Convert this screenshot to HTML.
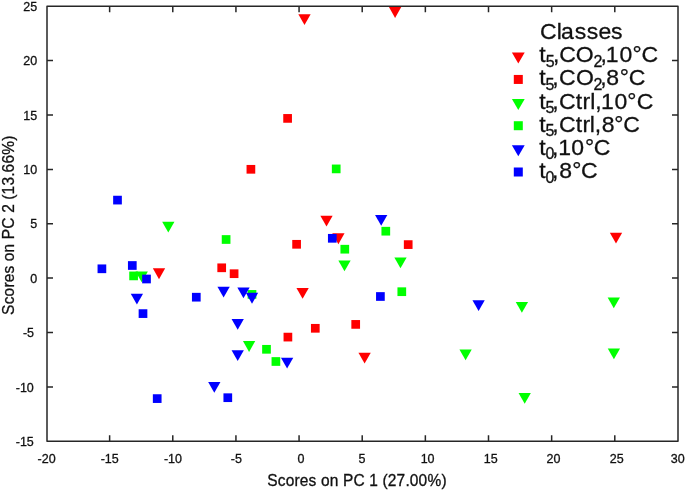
<!DOCTYPE html>
<html><head><meta charset="utf-8"><title>Scores on PC 1 vs PC 2</title>
<style>
html,body{margin:0;padding:0;background:#fff;width:685px;height:491px;overflow:hidden}
svg{display:block}
text{font-family:"Liberation Sans",Arial,Helvetica,sans-serif;fill:#111111;stroke:#111111;stroke-width:0.3px}
</style></head><body>
<svg width="685" height="491" viewBox="0 0 685 491">
<rect width="685" height="491" fill="#fff"/>
<g><polygon points="298.35,14.25 310.65,14.25 304.50,25.05" fill="#ff0000"/><polygon points="388.95,7.10 401.25,7.10 395.10,17.90" fill="#ff0000"/><polygon points="320.35,215.65 332.65,215.65 326.50,226.45" fill="#ff0000"/><polygon points="332.25,233.35 344.55,233.35 338.40,244.15" fill="#ff0000"/><polygon points="152.85,268.35 165.15,268.35 159.00,279.15" fill="#ff0000"/><polygon points="296.45,287.90 308.75,287.90 302.60,298.70" fill="#ff0000"/><polygon points="358.45,352.65 370.75,352.65 364.60,363.45" fill="#ff0000"/><polygon points="609.85,232.75 622.15,232.75 616.00,243.55" fill="#ff0000"/><rect x="283.25" y="114.05" width="8.70" height="8.70" fill="#ff0000"/><rect x="246.55" y="164.95" width="8.70" height="8.70" fill="#ff0000"/><rect x="292.25" y="239.95" width="8.70" height="8.70" fill="#ff0000"/><rect x="217.35" y="263.45" width="8.70" height="8.70" fill="#ff0000"/><rect x="229.75" y="269.35" width="8.70" height="8.70" fill="#ff0000"/><rect x="310.95" y="323.95" width="8.70" height="8.70" fill="#ff0000"/><rect x="351.35" y="320.05" width="8.70" height="8.70" fill="#ff0000"/><rect x="283.55" y="332.75" width="8.70" height="8.70" fill="#ff0000"/><rect x="403.85" y="240.25" width="8.70" height="8.70" fill="#ff0000"/><polygon points="162.15,221.65 174.45,221.65 168.30,232.45" fill="#00ff00"/><polygon points="338.35,260.55 350.65,260.55 344.50,271.35" fill="#00ff00"/><polygon points="394.35,257.50 406.65,257.50 400.50,268.30" fill="#00ff00"/><polygon points="135.55,271.50 147.85,271.50 141.70,282.30" fill="#00ff00"/><polygon points="242.95,341.10 255.25,341.10 249.10,351.90" fill="#00ff00"/><polygon points="459.45,349.50 471.75,349.50 465.60,360.30" fill="#00ff00"/><polygon points="515.75,302.05 528.05,302.05 521.90,312.85" fill="#00ff00"/><polygon points="607.65,297.50 619.95,297.50 613.80,308.30" fill="#00ff00"/><polygon points="607.75,348.55 620.05,348.55 613.90,359.35" fill="#00ff00"/><polygon points="518.55,393.05 530.85,393.05 524.70,403.85" fill="#00ff00"/><rect x="331.85" y="164.55" width="8.70" height="8.70" fill="#00ff00"/><rect x="221.75" y="235.15" width="8.70" height="8.70" fill="#00ff00"/><rect x="340.45" y="244.85" width="8.70" height="8.70" fill="#00ff00"/><rect x="381.45" y="226.85" width="8.70" height="8.70" fill="#00ff00"/><rect x="397.45" y="287.35" width="8.70" height="8.70" fill="#00ff00"/><rect x="262.15" y="344.95" width="8.70" height="8.70" fill="#00ff00"/><rect x="271.55" y="357.15" width="8.70" height="8.70" fill="#00ff00"/><rect x="129.25" y="271.55" width="8.70" height="8.70" fill="#00ff00"/><rect x="247.65" y="290.05" width="8.70" height="8.70" fill="#00ff00"/><polygon points="375.05,215.00 387.35,215.00 381.20,225.80" fill="#0000ff"/><polygon points="130.75,293.80 143.05,293.80 136.90,304.60" fill="#0000ff"/><polygon points="217.45,286.65 229.75,286.65 223.60,297.45" fill="#0000ff"/><polygon points="237.35,287.40 249.65,287.40 243.50,298.20" fill="#0000ff"/><polygon points="245.85,292.85 258.15,292.85 252.00,303.65" fill="#0000ff"/><polygon points="231.55,319.05 243.85,319.05 237.70,329.85" fill="#0000ff"/><polygon points="231.55,350.15 243.85,350.15 237.70,360.95" fill="#0000ff"/><polygon points="208.15,381.90 220.45,381.90 214.30,392.70" fill="#0000ff"/><polygon points="280.95,357.65 293.25,357.65 287.10,368.45" fill="#0000ff"/><polygon points="472.45,300.30 484.75,300.30 478.60,311.10" fill="#0000ff"/><rect x="113.15" y="195.75" width="8.70" height="8.70" fill="#0000ff"/><rect x="97.55" y="264.45" width="8.70" height="8.70" fill="#0000ff"/><rect x="127.95" y="261.15" width="8.70" height="8.70" fill="#0000ff"/><rect x="142.15" y="274.65" width="8.70" height="8.70" fill="#0000ff"/><rect x="138.65" y="309.25" width="8.70" height="8.70" fill="#0000ff"/><rect x="191.95" y="292.85" width="8.70" height="8.70" fill="#0000ff"/><rect x="327.95" y="233.95" width="8.70" height="8.70" fill="#0000ff"/><rect x="376.05" y="292.15" width="8.70" height="8.70" fill="#0000ff"/><rect x="152.85" y="394.25" width="8.70" height="8.70" fill="#0000ff"/><rect x="223.45" y="393.35" width="8.70" height="8.70" fill="#0000ff"/></g>
<path d="M47.0,6.25H678.0V441.25H47.0ZM109.63,441.25v-6.0M109.63,6.25v6.0M172.78,441.25v-6.0M172.78,6.25v6.0M235.93,441.25v-6.0M235.93,6.25v6.0M299.07,441.25v-6.0M299.07,6.25v6.0M362.21,441.25v-6.0M362.21,6.25v6.0M425.36,441.25v-6.0M425.36,6.25v6.0M488.50,441.25v-6.0M488.50,6.25v6.0M551.65,441.25v-6.0M551.65,6.25v6.0M614.79,441.25v-6.0M614.79,6.25v6.0M47.0,386.88h6.0M678.0,386.88h-6.0M47.0,332.50h6.0M678.0,332.50h-6.0M47.0,278.12h6.0M678.0,278.12h-6.0M47.0,223.75h6.0M678.0,223.75h-6.0M47.0,169.38h6.0M678.0,169.38h-6.0M47.0,115.00h6.0M678.0,115.00h-6.0M47.0,60.62h6.0M678.0,60.62h-6.0" fill="none" stroke="#262626" stroke-width="1.5" stroke-linecap="butt" stroke-linejoin="round"/>
<text x="46.60" y="462.6" font-size="12.5" text-anchor="middle">-20</text>
<text x="109.70" y="462.6" font-size="12.5" text-anchor="middle">-15</text>
<text x="173.00" y="462.6" font-size="12.5" text-anchor="middle">-10</text>
<text x="236.30" y="462.6" font-size="12.5" text-anchor="middle">-5</text>
<text x="300.90" y="462.6" font-size="12.5" text-anchor="middle">0</text>
<text x="362.10" y="462.6" font-size="12.5" text-anchor="middle">5</text>
<text x="427.60" y="462.6" font-size="12.5" text-anchor="middle">10</text>
<text x="490.70" y="462.6" font-size="12.5" text-anchor="middle">15</text>
<text x="553.50" y="462.6" font-size="12.5" text-anchor="middle">20</text>
<text x="616.70" y="462.6" font-size="12.5" text-anchor="middle">25</text>
<text x="677.70" y="462.6" font-size="12.5" text-anchor="middle">30</text>
<text x="37.20" y="10.95" font-size="12.5" text-anchor="end">25</text>
<text x="37.20" y="65.33" font-size="12.5" text-anchor="end">20</text>
<text x="37.20" y="119.70" font-size="12.5" text-anchor="end">15</text>
<text x="37.20" y="174.07" font-size="12.5" text-anchor="end">10</text>
<text x="37.20" y="228.45" font-size="12.5" text-anchor="end">5</text>
<text x="37.20" y="282.82" font-size="12.5" text-anchor="end">0</text>
<text x="34.00" y="337.20" font-size="12.5" text-anchor="end">-5</text>
<text x="33.80" y="391.57" font-size="12.5" text-anchor="end">-10</text>
<text x="33.80" y="445.95" font-size="12.5" text-anchor="end">-15</text>
<text transform="matrix(1 0 0 1.03 0 -14.568)" y="485.6" font-size="15.5" x="267.20 277.76 285.68 294.49 299.76 308.57 316.49 320.89 329.69 338.50 342.90 353.47 364.90 369.30 378.11 382.51 387.79 396.59 405.40 409.80 418.61 427.42 441.50">Scores on PC 1 (27.00%)</text>
<text transform="rotate(-90) matrix(1 0 0 1.03 0 -0.408)" y="13.6" font-size="15.5" x="-314.90 -304.35 -296.43 -287.63 -282.36 -273.56 -265.64 -261.24 -252.44 -243.64 -239.24 -228.68 -217.25 -212.85 -204.05 -199.65 -194.38 -185.58 -176.78 -172.38 -163.58 -154.77 -140.70">Scores on PC 2 (13.66%)</text>
<text transform="matrix(1 0 0 0.98 0 0.780)" y="39.0" font-size="23.0" x="539.90 556.74 561.02 574.75 586.65 598.38 610.95">Classes</text>
<polygon points="511.90,52.60 524.70,52.60 518.30,63.60" fill="#ff0000"/>
<text transform="matrix(1 0 0 0.98 0 1.246)"><tspan font-size="23.0" y="62.30" x="539.27">t</tspan><tspan font-size="16.0" y="66.90" x="545.87">5</tspan><tspan font-size="23.0" y="62.30" x="552.90 559.35 575.81">,CO</tspan><tspan font-size="16.0" y="66.90" x="593.45">2</tspan><tspan font-size="23.0" y="62.30" x="600.40 605.64 619.55 632.51 641.55">,10°C</tspan></text>
<rect x="513.80" y="74.94" width="9.00" height="9.00" fill="#ff0000"/>
<text transform="matrix(1 0 0 0.98 0 1.709)"><tspan font-size="23.0" y="85.44" x="539.32">t</tspan><tspan font-size="16.0" y="90.04" x="545.62">5</tspan><tspan font-size="23.0" y="85.44" x="552.30 559.10 576.11">,CO</tspan><tspan font-size="16.0" y="90.04" x="593.40">2</tspan><tspan font-size="23.0" y="85.44" x="600.20 606.35 619.81 628.85">,8°C</tspan></text>
<polygon points="511.90,98.88 524.70,98.88 518.30,109.88" fill="#00ff00"/>
<text transform="matrix(1 0 0 0.98 0 2.172)"><tspan font-size="23.0" y="108.58" x="539.32">t</tspan><tspan font-size="16.0" y="113.18" x="545.62">5</tspan><tspan font-size="23.0" y="108.58" x="552.30 559.10 575.72 582.50 590.29 595.30 600.99 614.45 627.21 636.70">,Ctrl,10°C</tspan></text>
<rect x="513.80" y="121.22" width="9.00" height="9.00" fill="#00ff00"/>
<text transform="matrix(1 0 0 0.98 0 2.634)"><tspan font-size="23.0" y="131.72" x="539.32">t</tspan><tspan font-size="16.0" y="136.32" x="545.62">5</tspan><tspan font-size="23.0" y="131.72" x="552.30 559.10 575.72 582.50 589.84 594.70 601.75 614.31 623.35">,Ctrl,8°C</tspan></text>
<polygon points="511.90,145.16 524.70,145.16 518.30,156.16" fill="#0000ff"/>
<text transform="matrix(1 0 0 0.98 0 3.097)"><tspan font-size="23.0" y="154.86" x="539.22">t</tspan><tspan font-size="16.0" y="159.46" x="545.60">0</tspan><tspan font-size="23.0" y="154.86" x="552.05 558.34 571.15 585.01 593.85">,10°C</tspan></text>
<rect x="513.80" y="167.50" width="9.00" height="9.00" fill="#0000ff"/>
<text transform="matrix(1 0 0 0.98 0 3.560)"><tspan font-size="23.0" y="178.00" x="539.22">t</tspan><tspan font-size="16.0" y="182.60" x="545.60">0</tspan><tspan font-size="23.0" y="178.00" x="552.05 559.20 572.31 581.00">,8°C</tspan></text>
</svg>
</body></html>
